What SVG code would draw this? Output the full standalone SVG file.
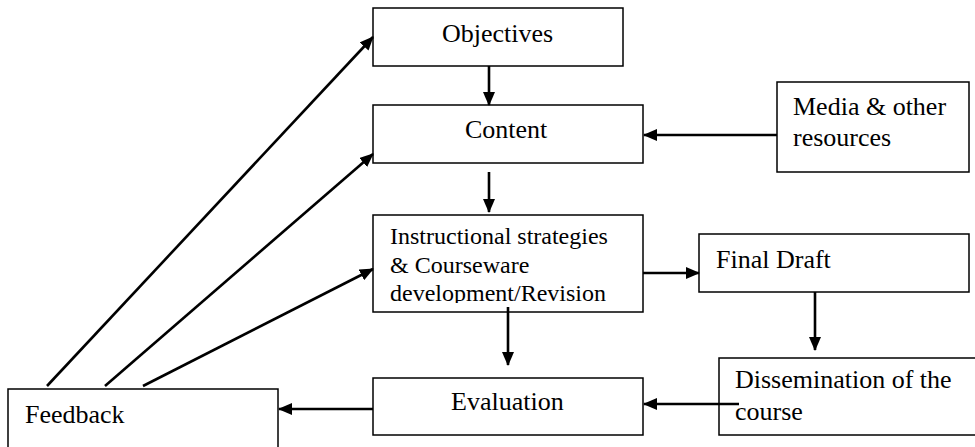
<svg xmlns="http://www.w3.org/2000/svg" width="975" height="447" viewBox="0 0 975 447">
  <defs>
    <marker id="arrow" markerUnits="userSpaceOnUse" markerWidth="14" markerHeight="12" refX="13" refY="6" orient="auto">
      <path d="M0,0 L14,6 L0,12 z" fill="#000"/>
    </marker>
    <clipPath id="instr-clip">
      <rect x="373" y="215" width="270" height="88"/>
    </clipPath>
  </defs>
  <style>
    .box { fill: #fff; stroke: #000; stroke-width: 1.5; }
    .lbl { font-size: 26px; fill: #000; }
    .small { font-size: 24px; }
    .edge { stroke: #000; stroke-width: 2.6; fill: none; marker-end: url(#arrow); }
  </style>

  <g font-family="'Liberation Serif', 'DejaVu Serif', serif">
    <g id="objectives">
      <rect class="box" x="373" y="8" width="250" height="58"/>
      <text class="lbl" x="442" y="42">Objectives</text>
    </g>

    <g id="content">
      <rect class="box" x="373" y="105" width="270" height="58"/>
      <text class="lbl" x="465" y="138">Content</text>
    </g>

    <g id="media">
      <rect class="box" x="777" y="82" width="192" height="90"/>
      <text class="lbl" x="793" y="115">Media &amp; other</text>
      <text class="lbl" x="793" y="146">resources</text>
    </g>

    <g id="instructional">
      <rect class="box" x="373" y="215" width="270" height="97"/>
      <g clip-path="url(#instr-clip)">
        <text class="lbl small" x="390" y="244">Instructional strategies</text>
        <text class="lbl small" x="390" y="273">&amp; Courseware</text>
        <text class="lbl small" x="390" y="301">development/Revision</text>
      </g>
    </g>

    <g id="final-draft">
      <rect class="box" x="699" y="234" width="270" height="58"/>
      <text class="lbl" x="716" y="268">Final Draft</text>
    </g>

    <g id="evaluation">
      <rect class="box" x="373" y="378" width="270" height="57"/>
      <text class="lbl" x="451" y="410">Evaluation</text>
    </g>

    <g id="dissemination">
      <rect class="box" x="719" y="358" width="262" height="77"/>
      <text class="lbl" x="735" y="388">Dissemination of the</text>
      <text class="lbl" x="735" y="420">course</text>
    </g>

    <g id="feedback">
      <rect class="box" x="8" y="389" width="270" height="64"/>
      <text class="lbl" x="25" y="423">Feedback</text>
    </g>
  </g>

  <g id="connectors">
    <line class="edge" x1="489" y1="66" x2="489" y2="105"/>
    <line class="edge" x1="489" y1="172" x2="489" y2="212"/>
    <line class="edge" x1="777" y1="135" x2="644" y2="135"/>
    <line class="edge" x1="643" y1="273" x2="699" y2="273"/>
    <line class="edge" x1="815" y1="292" x2="815" y2="350"/>
    <line class="edge" x1="508" y1="307" x2="508" y2="365"/>
    <line class="edge" x1="739" y1="404" x2="644" y2="404"/>
    <line class="edge" x1="373" y1="409" x2="279" y2="409"/>
    <line class="edge" x1="47" y1="386" x2="373" y2="37"/>
    <line class="edge" x1="105" y1="386" x2="373" y2="154"/>
    <line class="edge" x1="143" y1="386" x2="373" y2="269"/>
  </g>
</svg>
